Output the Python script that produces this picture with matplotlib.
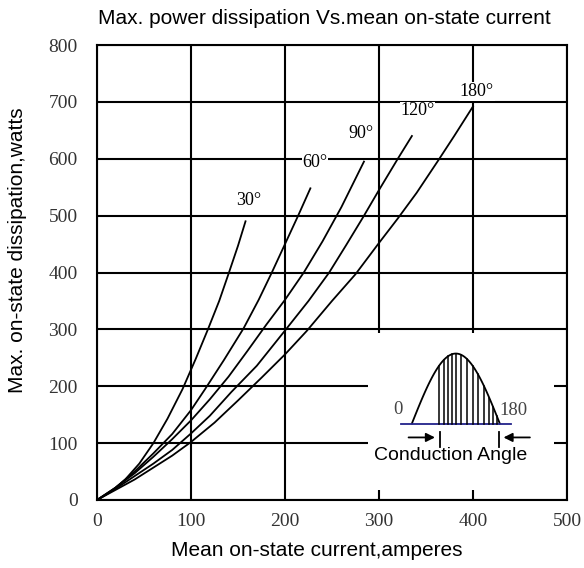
import numpy as np
import matplotlib
matplotlib.use("Agg")
import matplotlib.pyplot as plt
from matplotlib.patches import Rectangle

# curves: mean current [A] vs max dissipation [W]
i_30 = [0, 15, 30, 45, 60, 75, 91, 105, 118, 130, 140, 150, 158]
p_30 = [0, 15, 36, 64, 100, 143, 195, 248, 300, 350, 398, 447, 490]

i_60 = [0, 20, 40, 60, 80, 100, 115, 135, 156, 172, 186, 200, 214, 227]
p_60 = [0, 22, 50, 82, 116, 158, 195, 246, 302, 352, 400, 450, 500, 548]

i_90 = [0, 20, 40, 60, 80, 100, 120, 140, 160, 180, 200, 220, 240, 260, 284]
p_90 = [0, 22, 47, 76, 107, 140, 177, 217, 262, 308, 352, 400, 455, 515, 595]

i_120 = [0, 20, 40, 60, 80, 100, 120, 143, 170, 201, 225, 247, 265, 283, 300, 320, 335]
p_120 = [0, 20, 42, 64, 88, 117, 148, 190, 236, 300, 350, 400, 448, 497, 545, 600, 640]

i_180 = [0, 20, 40, 60, 80, 100, 125, 150, 175, 200, 223, 250, 275, 300, 320, 340, 363, 380, 400]
p_180 = [0, 18, 36, 57, 78, 102, 136, 175, 215, 256, 297, 350, 397, 452, 495, 540, 597, 640, 692]

curves = [(i_30, p_30), (i_60, p_60), (i_90, p_90), (i_120, p_120), (i_180, p_180)]
angle_labels = ["30°", "60°", "90°", "120°", "180°"]
label_x = [161, 232, 281, 341, 404]
label_y = [526, 593, 644, 684, 718]

x_ticks = [0, 100, 200, 300, 400, 500]
y_ticks = [0, 100, 200, 300, 400, 500, 600, 700, 800]

# inset sketch (conduction angle), in data units
hump_start, hump_end, hump_base, hump_height = 335, 428.5, 134.5, 123
base_x = [323, 440]
hatch_x = [364, 369, 373.5, 378, 382.3, 387, 393.4, 399.5, 405.4, 411.8, 417.2, 421.4, 425.4]

fig = plt.figure(figsize=(5.84, 5.68), dpi=100)
ax = fig.add_axes([97 / 584, 68 / 568, 470 / 584, 455 / 568])

for xs, ys in curves:
    ax.plot(xs, ys, color="black", lw=1.3, zorder=3)

for t, lx, ly in zip(angle_labels, label_x, label_y):
    ax.text(lx, ly, t, ha="center", va="center", family="Liberation Serif", fontsize=13,
            bbox=dict(facecolor="white", edgecolor="none", pad=0.5), zorder=4)

ax.set_xlim(0, 500)
ax.set_ylim(0, 800)
ax.set_xticks(x_ticks)
ax.set_yticks(y_ticks)
ax.grid(True, color="black", lw=1.5)
ax.set_axisbelow(True)
ax.tick_params(length=0, labelsize=14, colors="#333333")
ax.tick_params(axis="y", pad=14)
ax.tick_params(axis="x", pad=9)
for lab in ax.get_xticklabels() + ax.get_yticklabels():
    lab.set_family("Liberation Serif")
for s in ax.spines.values():
    s.set_linewidth(1.5)

# inset: white box covering the grid
ax.add_patch(Rectangle((288, 17.5), 198, 277, facecolor="white", edgecolor="none", zorder=2))
hx = np.linspace(hump_start, hump_end, 100)
hy = hump_base + hump_height * np.sin(np.pi * (hx - hump_start) / (hump_end - hump_start))
ax.plot(hx, hy, color="black", lw=1.3, zorder=3)
ax.plot(base_x, [hump_base, hump_base], color="#22228a", lw=1.3, zorder=3)
for x in hatch_x:
    top = hump_base + hump_height * np.sin(np.pi * (x - hump_start) / (hump_end - hump_start))
    ax.plot([x, x], [hump_base, top], color="black", lw=1.1, zorder=3)
ax.text(320.6, 159.6, "0", ha="center", va="center", family="Liberation Serif",
        fontsize=13.5, color="#444444", zorder=4)
ax.text(443, 157, "180", ha="center", va="center", family="Liberation Serif",
        fontsize=13.5, color="#444444", zorder=4)
arrow = dict(arrowstyle="-|>", color="black", lw=1.3, mutation_scale=13)
ax.annotate("", xy=(362.5, 110), xytext=(328.5, 110), arrowprops=arrow, zorder=4)
ax.annotate("", xy=(429.5, 110), xytext=(463.5, 110), arrowprops=arrow, zorder=4)
ax.plot([364.6, 364.6], [93.5, 120], color="black", lw=1.3, zorder=3)
ax.plot([427.8, 427.8], [93.5, 120], color="black", lw=1.3, zorder=3)
ax.text(376, 79, "Conduction Angle", ha="center", va="center", family="Liberation Sans",
        fontsize=14, zorder=4)

fig.text(324 / 584, 1 - 19 / 568, "Max. power dissipation Vs.mean on-state current",
         ha="center", va="center", family="Liberation Sans", fontsize=15)
fig.text(317 / 584, 1 - 551 / 568, "Mean on-state current,amperes",
         ha="center", va="center", family="Liberation Sans", fontsize=15)
fig.text(18 / 584, 1 - 250 / 568, "Max. on-state dissipation,watts", rotation=90,
         ha="center", va="center", family="Liberation Sans", fontsize=15)

fig.savefig("out.png", dpi=100)
